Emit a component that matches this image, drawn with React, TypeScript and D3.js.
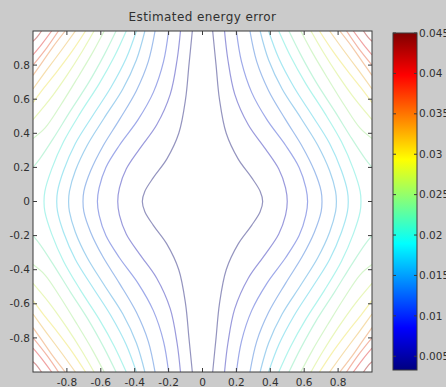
import * as d3 from "d3";

// axis ticks
const xTicks = [-0.8, -0.6, -0.4, -0.2, 0, 0.2, 0.4, 0.6, 0.8];
const xTickLabels = ["-0.8", "-0.6", "-0.4", "-0.2", "0", "0.2", "0.4", "0.6", "0.8"];
const yTicks = [-0.8, -0.6, -0.4, -0.2, 0, 0.2, 0.4, 0.6, 0.8];
const yTickLabels = ["-0.8", "-0.6", "-0.4", "-0.2", "0", "0.2", "0.4", "0.6", "0.8"];

// colorbar
const cbTicks = [0.005, 0.01, 0.015, 0.02, 0.025, 0.03, 0.035, 0.04, 0.045];
const cbTickLabels = ["0.005", "0.01", "0.015", "0.02", "0.025", "0.03", "0.035", "0.04", "0.045"];
const colorMin = 0.0033;
const colorMax = 0.045;

// contour levels
const levels = [
  0.005, 0.0075, 0.01, 0.0125, 0.015, 0.0175, 0.02, 0.0225,
  0.025, 0.0275, 0.03, 0.0325, 0.035, 0.0375, 0.04, 0.0425,
];

const quarterLines: [number, number][][] = [
  [[-0.06, 1], [-0.08, 0.8], [-0.1, 0.6], [-0.14, 0.4], [-0.21, 0.25], [-0.29, 0.14], [-0.34, 0.06], [-0.355, 0]],
  [[-0.13, 1], [-0.15, 0.83], [-0.19, 0.63], [-0.27, 0.45], [-0.37, 0.31], [-0.45, 0.19], [-0.49, 0.08], [-0.5, 0]],
  [[-0.2, 1], [-0.23, 0.82], [-0.29, 0.64], [-0.38, 0.48], [-0.49, 0.33], [-0.57, 0.2], [-0.61, 0.08], [-0.62, 0]],
  [[-0.28, 1], [-0.32, 0.82], [-0.39, 0.65], [-0.49, 0.48], [-0.59, 0.32], [-0.66, 0.18], [-0.7, 0.06], [-0.705, 0]],
  [[-0.34, 1], [-0.39, 0.83], [-0.47, 0.66], [-0.58, 0.49], [-0.68, 0.33], [-0.75, 0.18], [-0.785, 0.06], [-0.79, 0]],
  [[-0.39, 1], [-0.45, 0.84], [-0.54, 0.67], [-0.65, 0.5], [-0.75, 0.34], [-0.82, 0.18], [-0.855, 0.06], [-0.86, 0]],
  [[-0.45, 1], [-0.52, 0.85], [-0.61, 0.69], [-0.72, 0.52], [-0.82, 0.35], [-0.89, 0.19], [-0.93, 0.06], [-0.935, 0]],
  [[-0.51, 1], [-0.58, 0.86], [-0.67, 0.7], [-0.78, 0.53], [-0.88, 0.37], [-0.96, 0.25], [-1, 0.2]],
  [[-0.58, 1], [-0.65, 0.87], [-0.74, 0.72], [-0.84, 0.56], [-0.93, 0.43], [-1, 0.37]],
  [[-0.64, 1], [-0.71, 0.88], [-0.8, 0.74], [-0.9, 0.6], [-1, 0.48]],
  [[-0.69, 1], [-0.77, 0.88], [-0.86, 0.76], [-0.94, 0.66], [-1, 0.58]],
  [[-0.75, 1], [-0.83, 0.89], [-0.92, 0.77], [-1, 0.66]],
  [[-0.81, 1], [-0.88, 0.91], [-0.95, 0.81], [-1, 0.74]],
  [[-0.85, 1], [-0.92, 0.9], [-1, 0.8]],
  [[-0.89, 1], [-0.95, 0.92], [-1, 0.86]],
  [[-0.95, 1], [-0.975, 0.965], [-1, 0.94]],
];

// MATLAB jet
const jetStops = [0, 0.125, 0.375, 0.625, 0.875, 1];
const jetColors = ["#000080", "#0000ff", "#00ffff", "#ffff00", "#ff0000", "#800000"];
// the lines in the picture are washed out; mix them with grey
const lineColors = ["#22225a", "#3a3ad0", "#50e8e8", "#f0f060", "#e84848", "#7a2020"];

const W = 446;
const H = 387;
const plot = { left: 33, right: 372, top: 31, bottom: 372 };
const cb = { left: 393, right: 417, top: 33, bottom: 370 };
const font = "'DejaVu Sans', Arial, sans-serif";
const textColor = "#303030";

// mirror one quarter into the whole square
function mirrored(pts: [number, number][]): [number, number][][] {
  const last = pts[pts.length - 1];
  if (last[1] === 0) {
    const left = pts.concat(
      pts.slice(0, -1).reverse().map(([x, y]) => [x, -y] as [number, number])
    );
    return [left, left.map(([x, y]) => [-x, y] as [number, number])];
  }
  const out: [number, number][][] = [];
  for (const sx of [1, -1])
    for (const sy of [1, -1]) out.push(pts.map(([x, y]) => [sx * x, sy * y] as [number, number]));
  return out;
}

export default function App() {
  const x = d3.scaleLinear().domain([-1, 1]).range([plot.left, plot.right]);
  const y = d3.scaleLinear().domain([-1, 1]).range([plot.bottom, plot.top]);
  const cbY = d3.scaleLinear().domain([colorMin, colorMax]).range([cb.bottom, cb.top]);

  const lineColor = d3
    .scaleLinear<string>()
    .domain(jetStops.map((t) => colorMin + t * (colorMax - colorMin)))
    .range(lineColors)
    .clamp(true);

  const line = d3
    .line<[number, number]>()
    .x((d) => x(d[0]))
    .y((d) => y(d[1]))
    .curve(d3.curveCatmullRom.alpha(0.5));

  const tick = 4;

  return (
    <svg
      width={W}
      height={H}
      style={{ position: "absolute", left: 0, top: 0, display: "block" }}
    >
      <defs>
        <clipPath id="plot-clip">
          <rect x={plot.left} y={plot.top} width={plot.right - plot.left} height={plot.bottom - plot.top} />
        </clipPath>
        <linearGradient id="jet-grad" x1="0" y1="1" x2="0" y2="0">
          {jetStops.map((t, i) => (
            <stop key={i} offset={t} stopColor={jetColors[i]} />
          ))}
        </linearGradient>
      </defs>

      <rect x={0} y={0} width={W} height={H} fill="#cbcbcb" />
      <rect x={plot.left} y={plot.top} width={plot.right - plot.left} height={plot.bottom - plot.top} fill="#ffffff" />

      {/* contour lines */}
      <g clipPath="url(#plot-clip)" fill="none" strokeWidth={1.2} strokeOpacity={0.5}>
        {quarterLines.map((pts, i) =>
          mirrored(pts).map((p, j) => (
            <path key={`${i}-${j}`} d={line(p) ?? ""} stroke={lineColor(levels[i])} />
          ))
        )}
      </g>

      {/* axes box and ticks */}
      <rect
        x={plot.left}
        y={plot.top}
        width={plot.right - plot.left}
        height={plot.bottom - plot.top}
        fill="none"
        stroke="#3a3a3a"
        strokeWidth={1}
      />
      <g stroke="#3a3a3a" strokeWidth={1}>
        {xTicks.map((t) => (
          <g key={`xt${t}`}>
            <line x1={x(t)} x2={x(t)} y1={plot.bottom} y2={plot.bottom - tick} />
            <line x1={x(t)} x2={x(t)} y1={plot.top} y2={plot.top + tick} />
          </g>
        ))}
        {yTicks.map((t) => (
          <g key={`yt${t}`}>
            <line x1={plot.left} x2={plot.left + tick} y1={y(t)} y2={y(t)} />
            <line x1={plot.right} x2={plot.right - tick} y1={y(t)} y2={y(t)} />
          </g>
        ))}
      </g>
      <g fontFamily={font} fontSize={10.5} fill={textColor}>
        {xTicks.map((t, i) => (
          <text key={`xl${t}`} x={x(t)} y={386} textAnchor="middle">
            {xTickLabels[i]}
          </text>
        ))}
        {yTicks.map((t, i) => (
          <text key={`yl${t}`} x={plot.left - 3} y={y(t)} dy="0.35em" textAnchor="end">
            {yTickLabels[i]}
          </text>
        ))}
      </g>

      <text
        x={(plot.left + plot.right) / 2}
        y={21}
        textAnchor="middle"
        fontFamily={font}
        fontSize={12}
        letterSpacing={0.4}
        fill={textColor}
      >
        Estimated energy error
      </text>

      {/* colorbar */}
      <rect x={cb.left} y={cb.top} width={cb.right - cb.left} height={cb.bottom - cb.top} fill="url(#jet-grad)" stroke="#3a3a3a" strokeWidth={1} />
      <g stroke="#3a3a3a" strokeWidth={1}>
        {cbTicks.map((t) => (
          <g key={`cbt${t}`}>
            <line x1={cb.left} x2={cb.left + 3} y1={cbY(t)} y2={cbY(t)} />
            <line x1={cb.right} x2={cb.right - 3} y1={cbY(t)} y2={cbY(t)} />
          </g>
        ))}
      </g>
      <g fontFamily={font} fontSize={10.5} fill={textColor}>
        {cbTicks.map((t, i) => (
          <text key={`cbl${t}`} x={cb.right + 2} y={cbY(t)} dy="0.35em">
            {cbTickLabels[i]}
          </text>
        ))}
      </g>
    </svg>
  );
}
